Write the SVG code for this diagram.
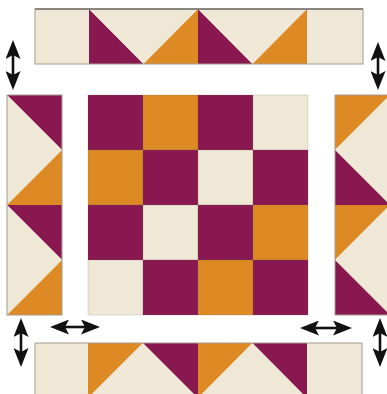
<svg xmlns="http://www.w3.org/2000/svg" width="387" height="394" viewBox="0 0 387 394">
<defs>
<style>
.p{fill:#88184F}
.o{fill:#DD8A24}
.c{fill:#EFE8D6}
.strip{fill:none;stroke:#A49C8C;stroke-width:1}
.cell{stroke:#7a6a60;stroke-width:0.4;stroke-opacity:0.5}
.arrow{stroke:#111;stroke-width:2.6;fill:none;marker-start:url(#ah);marker-end:url(#ah)}
</style>
<marker id="ah" viewBox="0 0 19 15" refX="4" refY="7.5" markerWidth="19" markerHeight="15" markerUnits="userSpaceOnUse" orient="auto-start-reverse">
<path d="M0,0 L19,7.5 L0,15 L4,7.5 z" fill="#111"/>
</marker>
</defs>
<rect width="387" height="394" fill="#fff"/>

<g id="top-strip">
<rect class="c" x="35" y="9" width="54" height="55"/>
<polygon class="p" points="89,9 89,64 143.5,64"/>
<polygon class="c" points="89,9 198,9 143.5,64"/>
<polygon class="o" points="198,9 198,64 143.5,64"/>
<polygon class="p" points="198,9 198,64 252.5,64"/>
<polygon class="c" points="198,9 307,9 252.5,64"/>
<polygon class="o" points="307,9 307,64 252.5,64"/>
<rect class="c" x="307" y="9" width="56" height="55"/>
<rect class="strip" x="35" y="9" width="328" height="55"/>
<line x1="35" y1="9" x2="363" y2="9" stroke="#444" stroke-width="1.2"/>
</g>

<g id="left-strip">
<polygon class="p" points="7,95 62,95 62,150"/>
<polygon class="c" points="7,95 62,150 7,205"/>
<polygon class="o" points="7,205 62,150 62,205"/>
<polygon class="p" points="7,205 62,205 62,260"/>
<polygon class="c" points="7,205 62,260 7,315"/>
<polygon class="o" points="7,315 62,260 62,315"/>
<rect class="strip" x="7" y="95" width="55" height="220"/>
</g>

<g id="right-strip">
<polygon class="o" points="335,95 390,95 335,150"/>
<polygon class="c" points="390,95 335,150 390,205"/>
<polygon class="p" points="335,150 335,205 390,205"/>
<polygon class="o" points="335,205 390,205 335,260"/>
<polygon class="c" points="390,205 335,260 390,315"/>
<polygon class="p" points="335,260 335,315 390,315"/>
<rect class="strip" x="335" y="95" width="55" height="220"/>
</g>

<g id="bottom-strip">
<rect class="c" x="35" y="343" width="53" height="55"/>
<polygon class="o" points="88,343 143,343 88,398"/>
<polygon class="c" points="88,398 143,343 198,398"/>
<polygon class="p" points="143,343 198,343 198,398"/>
<polygon class="o" points="198,343 252.5,343 198,398"/>
<polygon class="c" points="198,398 252.5,343 307,398"/>
<polygon class="p" points="252.5,343 307,343 307,398"/>
<rect class="c" x="307" y="343" width="55" height="55"/>
<rect class="strip" x="35" y="343" width="327" height="55"/>
</g>

<g id="center-block">
<rect class="cell p" x="88" y="95" width="55" height="55"/>
<rect class="cell o" x="143" y="95" width="55" height="55"/>
<rect class="cell p" x="198" y="95" width="55" height="55"/>
<rect class="cell c" x="253" y="95" width="55" height="55"/>
<rect class="cell o" x="88" y="150" width="55" height="55"/>
<rect class="cell p" x="143" y="150" width="55" height="55"/>
<rect class="cell c" x="198" y="150" width="55" height="55"/>
<rect class="cell p" x="253" y="150" width="55" height="55"/>
<rect class="cell p" x="88" y="205" width="55" height="55"/>
<rect class="cell c" x="143" y="205" width="55" height="55"/>
<rect class="cell p" x="198" y="205" width="55" height="55"/>
<rect class="cell o" x="253" y="205" width="55" height="55"/>
<rect class="cell c" x="88" y="260" width="55" height="55"/>
<rect class="cell p" x="143" y="260" width="55" height="55"/>
<rect class="cell o" x="198" y="260" width="55" height="55"/>
<rect class="cell p" x="253" y="260" width="55" height="55"/>
</g>

<g id="connectors">
<line class="arrow" x1="13" y1="55" x2="13" y2="75"/>
<line class="arrow" x1="378" y1="57" x2="378" y2="75"/>
<line class="arrow" x1="21" y1="333" x2="21" y2="352"/>
<line class="arrow" x1="380" y1="333" x2="380" y2="352"/>
<line class="arrow" x1="65" y1="327" x2="85" y2="327"/>
<line class="arrow" x1="315" y1="328" x2="337" y2="328"/>
</g>
</svg>
